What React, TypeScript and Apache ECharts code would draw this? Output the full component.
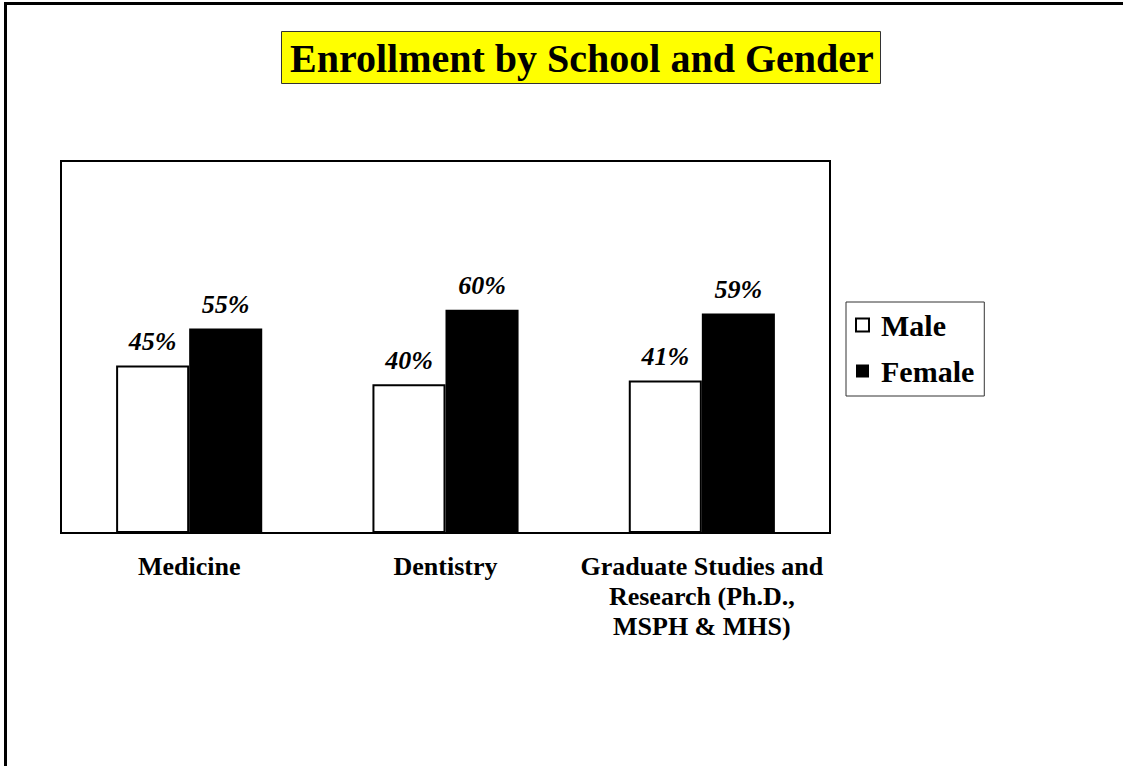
import React, { useEffect, useRef } from "react";
import * as echarts from "echarts";

const TITLE = "Enrollment by School and Gender";
const categories = [
  "Medicine",
  "Dentistry",
  "Graduate Studies and\nResearch (Ph.D.,\nMSPH & MHS)",
];
const seriesNames = ["Male", "Female"];
const maleValues = [45, 40, 41];
const femaleValues = [55, 60, 59];

const FONT = "'Liberation Serif', 'Times New Roman', serif";

export default function App() {
  const ref = useRef<HTMLDivElement>(null);
  useEffect(() => {
    if (!ref.current) return;
    const chart = echarts.init(ref.current, undefined, { renderer: "svg" });
    const labelCfg = {
      show: true,
      position: "top",
      distance: 11,
      formatter: "{c}%",
      fontFamily: FONT,
      fontSize: 26,
      fontWeight: "bold",
      fontStyle: "italic",
      color: "#000",
    };
    chart.setOption({
      animation: false,
      backgroundColor: "#fff",
      title: {
        text: TITLE,
        left: 281,
        top: 31,
        padding: [7, 7, 6, 9],
        backgroundColor: "#ffff00",
        borderColor: "#333",
        borderWidth: 1,
        textStyle: {
          fontFamily: FONT,
          fontSize: 40,
          fontWeight: "bold",
          color: "#000",
          lineHeight: 40,
        },
      },
      legend: {
        orient: "vertical",
        left: 846,
        top: 302,
        padding: [8, 10, 10, 9],
        itemGap: 16,
        itemWidth: 13,
        itemHeight: 13,
        icon: "rect",
        borderColor: "#333",
        borderWidth: 1,
        data: seriesNames,
        textStyle: {
          fontFamily: FONT,
          fontSize: 30,
          fontWeight: "bold",
          color: "#000",
          padding: [0, 0, 0, 7],
        },
      },
      grid: {
        left: 61,
        top: 161,
        width: 769,
        height: 372,
        show: true,
        borderColor: "#000",
        borderWidth: 2,
        backgroundColor: "transparent",
      },
      xAxis: {
        type: "category",
        data: categories,
        axisLine: { show: true, lineStyle: { color: "#000", width: 2 } },
        axisTick: { show: false },
        axisLabel: {
          margin: 18,
          interval: 0,
          fontFamily: FONT,
          fontSize: 26,
          fontWeight: "bold",
          color: "#000",
          lineHeight: 30,
          align: "center",
        },
      },
      yAxis: {
        type: "value",
        min: 0,
        max: 100,
        show: false,
        splitLine: { show: false },
      },
      series: [
        {
          name: seriesNames[0],
          type: "bar",
          data: maleValues,
          barGap: "0%",
          barCategoryGap: "43%",
          itemStyle: { color: "#fff", borderColor: "#000", borderWidth: 2 },
          label: labelCfg,
        },
        {
          name: seriesNames[1],
          type: "bar",
          data: femaleValues,
          barGap: "0%",
          barCategoryGap: "43%",
          itemStyle: { color: "#000", borderColor: "#000", borderWidth: 0 },
          label: labelCfg,
        },
      ],
      graphic: [
        {
          type: "line",
          shape: { x1: 5.5, y1: 2, x2: 5.5, y2: 766 },
          style: { stroke: "#000", lineWidth: 3 },
        },
        {
          type: "line",
          shape: { x1: 4, y1: 3.5, x2: 1123, y2: 3.5 },
          style: { stroke: "#000", lineWidth: 3 },
        },
      ],
    });
    return () => chart.dispose();
  }, []);
  return (
    <div
      ref={ref}
      style={{ position: "fixed", left: 0, top: 0, width: 1123, height: 766, background: "#fff" }}
    />
  );
}
